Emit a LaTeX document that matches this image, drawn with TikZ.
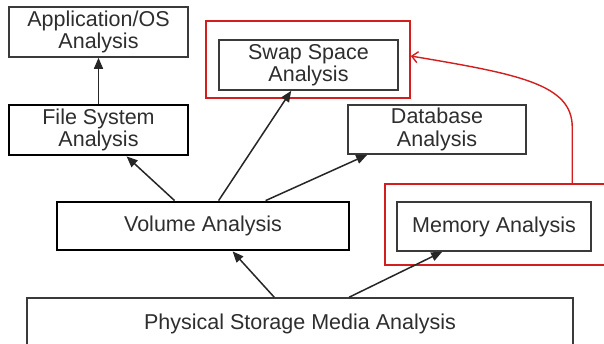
\documentclass[tikz,border=0pt]{standalone}
\usepackage{fontspec}
\setmainfont{Liberation Sans}
\usetikzlibrary{arrows.meta}
\definecolor{boxgray}{HTML}{3A3A3A}
\definecolor{txtgray}{HTML}{2E2E2E}
\definecolor{hired}{HTML}{D21E1E}
\begin{document}
\begin{tikzpicture}[x=1pt,y=-1pt,
  box/.style={draw=boxgray, line width=1.6pt, rectangle, inner sep=0pt, align=center,
    text=txtgray, font=\fontsize{21.5}{22.5}\selectfont},
  thickbox/.style={box, draw=black, line width=2.8pt},
  redbox/.style={draw=hired, line width=1.5pt, rectangle, inner sep=0pt},
  arr/.style={draw=black!85, line width=1.5pt, -{Triangle[length=11pt,width=9pt]}},
  redarr/.style={draw=hired, line width=1.4pt, -{Straight Barb[length=6pt,width=11pt]}}]
\useasboundingbox (0,0) rectangle (604,343);
\clip (0,0) rectangle (604,343);
\fill[white] (0,0) rectangle (604,343);
% red highlight frames
\node[redbox, minimum width=204pt, minimum height=77pt] (swapred) at (308,59.5) {};
\node[redbox, minimum width=230pt, minimum height=81pt] (memred) at (500,224.5) {};
% boxes
\node[box, minimum width=179pt, minimum height=50pt] (app) at (98.5,32) {Application/OS\\Analysis};
\node[thickbox, minimum width=179pt, minimum height=50pt] (fs) at (98.5,130) {File System\\Analysis};
\node[box, minimum width=179pt, minimum height=50pt] (swap) at (308.5,65) {Swap Space\\Analysis};
\node[box, minimum width=178pt, minimum height=49pt] (db) at (437,129.5) {Database\\Analysis};
\node[thickbox, minimum width=292pt, minimum height=48pt] (vol) at (203,226) {Volume Analysis};
\node[box, minimum width=194pt, minimum height=49pt] (mem) at (494,226.5) {Memory Analysis};
\node[box, minimum width=546pt, minimum height=64pt] (phys) at (300,330) {};
\node[text=txtgray, font=\fontsize{21.5}{22.5}\selectfont, inner sep=0pt] (physlabel) at (300,324) {Physical Storage Media Analysis};
% connectors
\draw[arr] (fs.north) -- (app.south);
\draw[arr] ([xshift=119pt]vol.north west) -- ([xshift=119pt]fs.south west);
\draw[arr] ([xshift=163pt]vol.north west) -- ([xshift=73pt]swap.south west);
\draw[arr] ([xshift=210pt]vol.north west) -- ([xshift=20pt]db.south west);
\draw[arr] ([xshift=248pt]phys.north west) -- ([xshift=177pt]vol.south west);
\draw[arr] ([xshift=323pt]phys.north west) -- ([xshift=46pt]mem.south west);
% red connector
\coordinate (bend) at ([xshift=188pt,yshift=56pt]memred.north west);
\draw[redarr] ([xshift=188pt]memred.north west) -- (bend)
  .. controls ([yshift=43pt]bend) and ([xshift=-53pt,yshift=53pt]bend) .. ([yshift=3.5pt]swapred.east);
\end{tikzpicture}
\end{document}
